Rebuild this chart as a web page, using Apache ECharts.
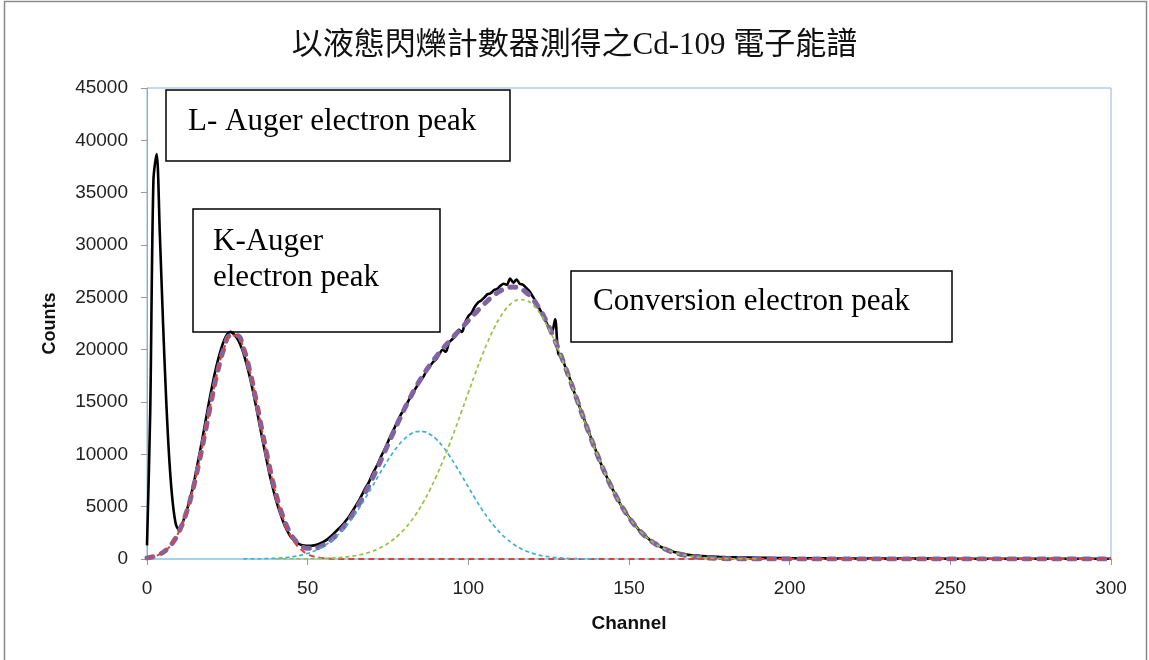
<!DOCTYPE html>
<html>
<head>
<meta charset="utf-8">
<script src="https://cdn.jsdelivr.net/npm/echarts@6/dist/echarts.min.js"></script>
<style>
  html, body { margin: 0; padding: 0; background: #fff; }
  #chart { width: 1149px; height: 660px; }
</style>
</head>
<body>
<div id="chart"></div>
<script>
// Cd-109 electron spectrum measured with a liquid scintillation counter

const chartTitle = '以液態閃爍計數器測得之Cd-109 電子能譜';
const xTicks = [0, 50, 100, 150, 200, 250, 300];
const yTicks = [0, 5000, 10000, 15000, 20000, 25000, 30000, 35000, 40000, 45000];

// Measured spectrum (counts per channel)
const measuredCh = [
  0, 1, 2, 3, 4, 5, 6, 7, 8, 9, 10, 11, 12, 13, 14, 15, 16, 17, 18, 19,
  20, 21, 22, 23, 24, 25, 26, 27, 28, 29, 30, 31, 32, 33, 34, 35, 36, 37, 38, 39,
  40, 41, 42, 43, 44, 45, 46, 47, 48, 49, 50, 51, 52, 53, 54, 55, 56, 57, 58, 59,
  60, 61, 62, 63, 64, 65, 66, 67, 68, 69, 70, 71, 72, 73, 74, 75, 76, 77, 78, 79,
  80, 81, 82, 83, 84, 85, 86, 87, 88, 89, 90, 91, 92, 93, 94, 95, 96, 97, 98, 99,
  100, 101, 102, 103, 104, 105, 106, 107, 108, 109, 110, 111, 112, 113, 114, 115, 116, 117, 118, 119,
  120, 121, 122, 123, 124, 125, 126, 127, 128, 129, 130, 131, 132, 133, 134, 135, 136, 137, 138, 139,
  140, 141, 142, 143, 144, 145, 146, 147, 148, 149, 150, 151, 152, 153, 154, 155, 156, 157, 158, 159,
  160, 161, 162, 163, 164, 165, 166, 167, 168, 169, 170, 172, 174, 176, 178, 180, 185, 190, 195, 200,
  210, 220, 230, 240, 250, 260, 270, 280, 290, 300
];
const measuredCounts = [
  1300, 14000, 36200, 38700, 31000, 22500, 15000, 9200, 5400, 3300, 2800, 3400, 4300, 5300, 6500, 7900, 9500, 11100, 12800, 14500,
  16100, 17600, 18900, 20000, 20900, 21500, 21700, 21500, 21100, 20500, 19700, 18600, 17400, 16000, 14500, 12900, 11300, 9800, 8300, 7000,
  5800, 4800, 3900, 3100, 2500, 2000, 1700, 1500, 1350, 1280, 1250, 1260, 1300, 1380, 1500, 1650, 1850, 2100, 2400, 2700,
  3000, 3300, 3700, 4100, 4600, 5100, 5600, 6200, 6800, 7300, 8000, 8600, 9200, 9900, 10500, 11200, 11900, 12500, 13200, 13800,
  14300, 14900, 15500, 16000, 16500, 17000, 17400, 18000, 18400, 18800, 19100, 19600, 20000, 19800, 20700, 21000, 21300, 21900, 21700, 22600,
  23200, 23500, 24100, 24500, 24700, 25000, 25300, 25400, 25700, 25800, 26100, 26300, 26200, 26800, 26400, 26700, 26300, 26200, 25900, 25600,
  25100, 24600, 24000, 23400, 22800, 22100, 21700, 22900, 19600, 19300, 18500, 17700, 16900, 15900, 15100, 14200, 13400, 12500, 11700, 10900,
  10100, 9300, 8600, 7900, 7200, 6600, 6000, 5400, 4900, 4400, 4000, 3500, 3200, 2800, 2500, 2200, 1950, 1700, 1500, 1300,
  1150, 1000, 880, 780, 680, 600, 530, 470, 420, 380, 350, 300, 260, 230, 200, 180, 140, 120, 100, 80,
  60, 50, 40, 40, 30, 30, 30, 20, 20, 20
];

// Fitted K-Auger electron peak
const kAugerCh = [0, 2, 4, 6, 8, 10, 12, 14, 16, 18, 20, 22, 24, 26, 28, 30, 32, 34, 36, 38, 40, 42, 44, 46, 48, 50, 52, 54, 56, 58, 60, 300];
const kAugerFit = [108, 230, 463, 876, 1565, 2641, 4201, 6308, 8935, 11943, 15067, 17933, 20141, 21345, 21345, 20141, 17933, 15067, 11943, 8935, 6308, 4201, 2641, 1565, 876, 463, 230, 108, 48, 20, 8, 0];

// Fitted conversion electron components (low and high energy lines)
const convLowCh = [
  30, 32, 34, 36, 38, 40, 42, 44, 46, 48, 50, 52, 54, 56, 58, 60, 62, 64, 66, 68, 70, 72, 74, 76, 78, 80, 82, 84,
  86, 88, 90, 92, 94, 96, 98, 100, 102, 104, 106, 108, 110, 112, 114, 116, 118, 120, 122, 124, 126, 128, 130, 132, 134, 136, 138, 140
];
const convLowFit = [
  5, 9, 16, 27, 44, 70, 109, 168, 252, 371, 536, 759, 1051, 1428, 1900, 2478, 3165, 3961, 4858, 5838, 6872, 7929, 8960, 9922, 10767, 11446, 11923, 12169,
  12169, 11923, 11446, 10767, 9922, 8960, 7929, 6872, 5838, 4858, 3961, 3165, 2478, 1900, 1428, 1051, 759, 536, 371, 252, 168, 109, 70, 44, 27, 16, 9, 5
];
const convHighCh = [
  40, 42, 44, 46, 48, 50, 52, 54, 56, 58, 60, 62, 64, 66, 68, 70, 72, 74, 76, 78,
  80, 82, 84, 86, 88, 90, 92, 94, 96, 98, 100, 102, 104, 106, 108, 110, 112, 114, 116, 118,
  120, 122, 124, 126, 128, 130, 132, 134, 136, 138, 140, 142, 144, 146, 148, 150, 152, 154, 156, 158,
  160, 162, 164, 166, 168, 170, 172, 174, 176, 178, 180, 182, 184, 186, 188, 190
];
const convHighFit = [
  2, 3, 5, 8, 12, 18, 28, 42, 63, 93, 135, 194, 276, 386, 533, 727, 978, 1300, 1704, 2205,
  2817, 3554, 4422, 5431, 6587, 7879, 9307, 10852, 12487, 14183, 15899, 17596, 19215, 20715, 22040, 23148, 23994, 24549, 24790, 24709,
  24309, 23604, 22625, 21402, 19984, 18417, 16755, 15042, 13330, 11659, 10066, 8578, 7214, 5989, 4908, 3970, 3169, 2497, 1942, 1490,
  1129, 844, 623, 454, 327, 232, 162, 112, 77, 52, 34, 22, 15, 9, 6, 4
];

// Total of the fitted components
const totalCh = [
  0, 2, 4, 6, 8, 10, 12, 14, 16, 18, 20, 22, 24, 26, 28, 30, 32, 34, 36, 38,
  40, 42, 44, 46, 48, 50, 52, 54, 56, 58, 60, 62, 64, 66, 68, 70, 72, 74, 76, 78,
  80, 82, 84, 86, 88, 90, 92, 94, 96, 98, 100, 102, 104, 106, 108, 110, 112, 114, 116, 118,
  120, 122, 124, 126, 128, 130, 132, 134, 136, 138, 140, 142, 144, 146, 148, 150, 152, 154, 156, 158,
  160, 162, 164, 166, 168, 170, 172, 174, 176, 178, 180, 182, 184, 186, 188, 190, 200, 250, 300
];
const totalFit = [
  108, 230, 463, 876, 1565, 2641, 4201, 6308, 8935, 11943, 15067, 17933, 20141, 21345, 21345, 20146, 17942, 15083, 11970, 8979,
  6380, 4313, 2814, 1825, 1259, 1017, 1017, 1201, 1539, 2013, 2621, 3359, 4237, 5244, 6371, 7599, 8907, 10260, 11626, 12972,
  14263, 15477, 16591, 17600, 18510, 19325, 20074, 20774, 21447, 22112, 22771, 23434, 24073, 24676, 25205, 25626, 25894, 25977, 25841, 25468,
  24845, 23975, 22877, 21570, 20093, 18487, 16799, 15069, 13346, 11668, 10071, 8578, 7214, 5989, 4908, 3970, 3169, 2497, 1942, 1490,
  1129, 844, 623, 454, 327, 232, 162, 112, 77, 52, 34, 22, 15, 9, 6, 4, 0, 0, 0
];

function pairs(xs, ys) {
  return xs.map((x, i) => [x, ys[i]]);
}

const serifFont = "'Liberation Serif', 'Times New Roman', serif";
const axisFont = "'Liberation Sans', Arial, sans-serif";

const chart = echarts.init(document.getElementById('chart'), null, { renderer: 'canvas' });

function annotation(x, y, w, h, lines) {
  const children = [{
    type: 'rect',
    shape: { x: x, y: y, width: w, height: h },
    style: { fill: '#fff', stroke: '#000', lineWidth: 1.5 }
  }];
  lines.forEach(l => {
    children.push({
      type: 'text',
      x: l.x, y: l.y,
      style: {
        text: l.text, fill: '#000', font: '31px ' + serifFont,
        textVerticalAlign: 'middle', verticalAlign: 'middle'
      }
    });
  });
  return { type: 'group', z: 100, children: children };
}

const option = {
  animation: false,
  backgroundColor: '#fff',
  title: {
    text: chartTitle,
    left: 'center',
    top: 25,
    textStyle: {
      fontFamily: "'Liberation Serif', 'Noto Sans CJK TC', serif",
      fontSize: 31,
      fontWeight: 'normal',
      color: '#111'
    }
  },
  grid: {
    left: 147, right: 38, top: 88, bottom: 101,
    show: true, borderColor: '#8EB4E3', borderWidth: 1, backgroundColor: 'transparent'
  },
  xAxis: {
    type: 'value', min: 0, max: 300, interval: 50,
    name: 'Channel', nameLocation: 'middle', nameGap: 55,
    nameTextStyle: { fontFamily: axisFont, fontSize: 19, fontWeight: 'bold', color: '#111' },
    axisLine: { show: true, lineStyle: { color: '#9ACFE2', width: 1.5 } },
    axisTick: { show: true, length: 6, lineStyle: { color: '#999' } },
    axisLabel: { margin: 20, fontFamily: axisFont, fontSize: 19, color: '#222', formatter: v => String(v) },
    splitLine: { show: false }
  },
  yAxis: {
    type: 'value', min: 0, max: 45000, interval: 5000,
    name: 'Counts', nameLocation: 'middle', nameGap: 88, nameRotate: 90,
    nameTextStyle: { fontFamily: axisFont, fontSize: 18, fontWeight: 'bold', color: '#111' },
    axisLine: { show: true, lineStyle: { color: '#A6A6A6', width: 1 } },
    axisTick: { show: true, length: 6, lineStyle: { color: '#999' } },
    axisLabel: { margin: 19, fontFamily: axisFont, fontSize: 19, color: '#222', formatter: v => String(v) },
    splitLine: { show: false }
  },
  series: [
    {
      name: 'Measured', type: 'line', data: pairs(measuredCh, measuredCounts),
      showSymbol: false, smooth: 0.3, z: 2,
      lineStyle: { color: '#000', width: 2.6 }
    },
    {
      name: 'Total fit', type: 'line', data: pairs(totalCh, totalFit),
      showSymbol: false, smooth: true, z: 3,
      lineStyle: { color: '#8064A2', width: 5, type: [6, 9], cap: 'round' }
    },
    {
      name: 'K-Auger fit', type: 'line', data: pairs(kAugerCh, kAugerFit),
      showSymbol: false, smooth: true, z: 4,
      lineStyle: { color: '#D9453D', width: 2, type: [6, 4] }
    },
    {
      name: 'Conversion fit 1', type: 'line', data: pairs(convLowCh, convLowFit),
      showSymbol: false, smooth: true, z: 4,
      lineStyle: { color: '#3FB0D2', width: 1.7, type: [4, 3] }
    },
    {
      name: 'Conversion fit 2', type: 'line', data: pairs(convHighCh, convHighFit),
      showSymbol: false, smooth: true, z: 5,
      lineStyle: { color: '#98C23E', width: 1.7, type: [4, 3] }
    }
  ],
  graphic: [
    {
      type: 'rect', z: 0, silent: true,
      shape: { x: 4.5, y: 1.5, width: 1142, height: 700 },
      style: { fill: 'none', stroke: '#8a8a8a', lineWidth: 1.5 }
    },
    annotation(166, 90, 344, 71, [{ x: 188, y: 122, text: 'L- Auger electron peak' }]),
    annotation(193, 209, 247, 123, [
      { x: 213, y: 242, text: 'K-Auger' },
      { x: 213, y: 278, text: 'electron peak' }
    ]),
    annotation(571, 271, 381, 71, [{ x: 593, y: 302, text: 'Conversion electron peak' }])
  ]
};

chart.setOption(option);
</script>
</body>
</html>
